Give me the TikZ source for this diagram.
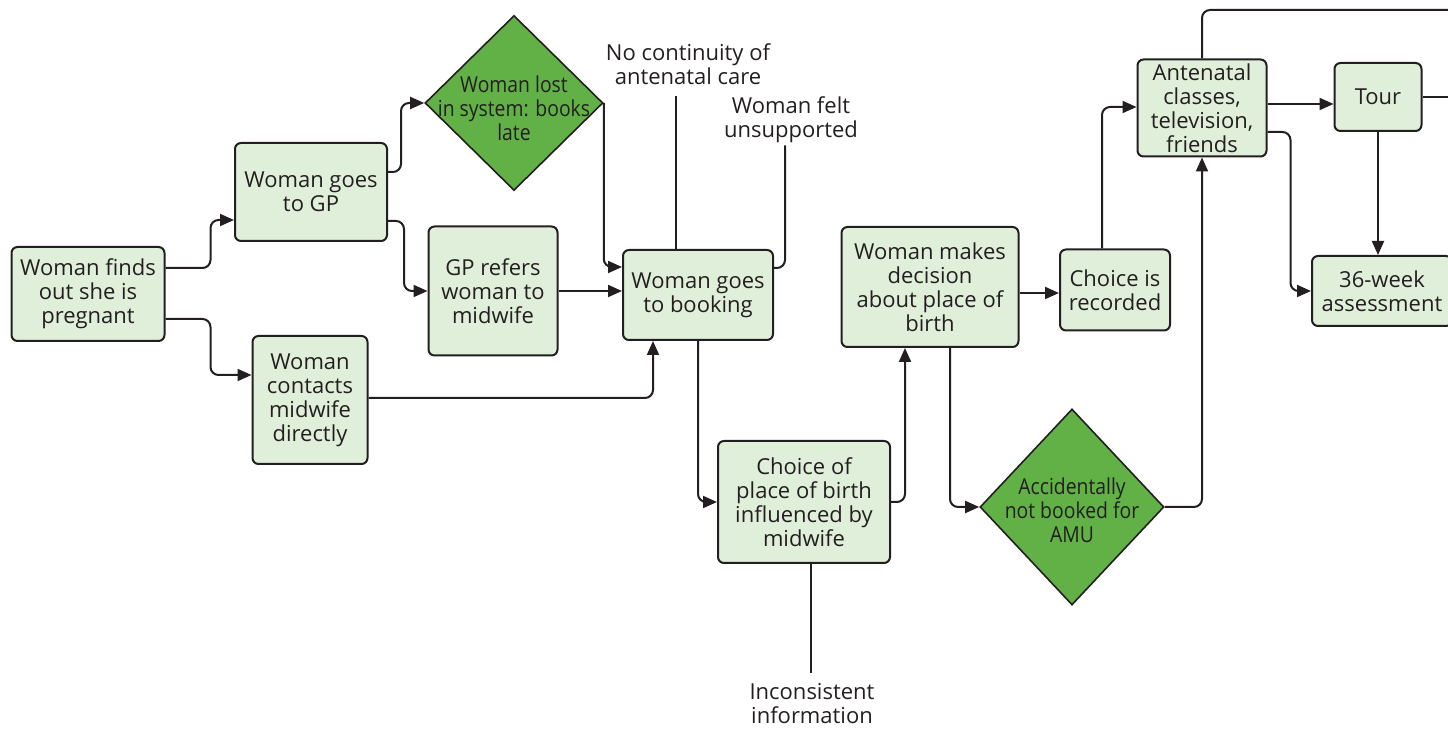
\documentclass[tikz,border=0pt]{standalone}
\usepackage{fontspec}
\setmainfont{Open Sans}
\usepackage{tikz}
\usetikzlibrary{shapes,calc,arrows.meta}

\definecolor{linec}{RGB}{35,31,32}
\definecolor{boxc}{RGB}{224,239,218}
\definecolor{darkc}{RGB}{98,177,70}

\begin{document}
\begin{tikzpicture}
[x=0.5pt,y=-0.5pt,
 box/.style={rectangle,rounded corners=3pt,draw=linec,fill=boxc,line width=1pt,align=center,inner sep=0pt,text=linec,font=\fontsize{11}{12}\selectfont},
 decide/.style={diamond,draw=linec,fill=darkc,line width=0.8pt,inner sep=0pt},
 inner/.style={align=center,text=linec,font=\fontsize{11}{12}\selectfont\addfontfeature{FakeStretch=0.88}},
 note/.style={align=center,text=linec,inner sep=1pt,font=\fontsize{11}{12}\selectfont},
 flow/.style={draw=linec,line width=1pt,rounded corners=4pt,-{Triangle[length=7pt,width=6pt]}},
 link/.style={draw=linec,line width=1pt,rounded corners=4pt}]
\useasboundingbox (0,0) rectangle (1448,731);
\clip (0,0) rectangle (1448,731);
% boxes
\node (find) at (88,294) [box,minimum width=76.5pt,minimum height=47pt] {Woman finds\\out she is\\pregnant};
\node (gp) at (311,192) [box,minimum width=76pt,minimum height=49pt] {Woman goes\\to GP};
\node (contact) at (310,400) [box,minimum width=57.5pt,minimum height=64pt] {Woman\\contacts\\midwife\\directly};
\node (lost) at (514,103) [decide,minimum width=89pt,minimum height=87.5pt,
  label={[inner,yshift=-2.5pt]center:Woman lost\\in system: books\\late}] {};
\node (refers) at (493,291) [box,minimum width=64.5pt,minimum height=64.5pt] {GP refers\\woman to\\midwife};
\node (booking) at (698,295) [box,minimum width=75pt,minimum height=45pt] {Woman goes\\to booking};
\node (influenced) at (804,502) [box,minimum width=86pt,minimum height=61pt] {Choice of\\place of birth\\influenced by\\midwife};
\node (decision) at (930,287) [box,minimum width=88.5pt,minimum height=60pt] {Woman makes\\decision\\about place of\\birth};
\node (recorded) at (1115,290) [box,minimum width=55pt,minimum height=40.5pt] {Choice is\\recorded};
\node (accident) at (1072,507) [decide,minimum width=92pt,minimum height=98pt,
  label={[inner,yshift=-1.5pt]center:Accidentally\\not booked for\\AMU}] {};
\node (antenatal) at (1202,108) [box,minimum width=64.5pt,minimum height=48.5pt] {Antenatal\\classes,\\television,\\friends};
\node (tour) at (1378,97) [box,minimum width=43.5pt,minimum height=34pt] {Tour};
\node (assess) at (1382,291) [box,minimum width=70pt,minimum height=35pt] {36-week\\assessment};
% free text
\node (nocont) at (688,64) [note] {No continuity of\\antenatal care};
\node (unsupp) at (791,120) [note] {Woman felt\\unsupported};
\node (incons) at (812,704) [note] {Inconsistent\\information};
\coordinate (tourout) at (1460,97);
\coordinate (topout) at (1460,10);
% connectors
\draw [flow] ($(find.east)+(0,-26)$) -- ++(45,0) |- ($(gp.west)+(0,28)$);
\draw [flow] ($(find.east)+(0,25)$) -- ++(45,0) |- ($(contact.west)+(0,-25)$);
\draw [flow] ($(gp.east)+(0,-20)$) -- ++(13,0) |- (lost.west);
\draw [flow] ($(gp.east)+(0,29)$) -- ++(16,0) |- (refers.west);
\draw [flow] (lost.east) |- ($(booking.west)+(0,-28)$);
\draw [flow] (refers.east) -- (booking.west |- refers.east);
\draw [flow] ($(contact.east)+(0,-2)$) -| ($(booking.south)+(-45,0)$);
\draw [flow] (booking.south) |- (influenced.west);
\draw [link] ($(booking.north)+(-22,0)$) -- ++(0,-153);
\draw [link] ($(unsupp.south)+(-6,0)$) |- ($(booking.east)+(0,-27)$);
\draw [flow] (influenced.east) -| ($(decision.south)+(-25,0)$);
\draw [link] ($(influenced.south)+(7,0)$) -- ++(0,109);
\draw [flow] ($(decision.east)+(0,6)$) -- ($(recorded.west)+(0,3)$);
\draw [flow] ($(decision.south)+(20,0)$) |- (accident.west);
\draw [flow] ($(recorded.north)+(-13,0)$) |- ($(antenatal.west)+(0,-1)$);
\draw [flow] (accident.east) -| (antenatal.south);
\draw [flow] ($(antenatal.east)+(0,-4)$) -- ($(tour.west)+(0,7)$);
\draw [flow] ($(antenatal.east)+(0,24)$) -- ++(23,0) |- (assess.west);
\draw [flow] (tour.south) -- (tour.south |- assess.north);
\draw [link] (tour.east) -- (tourout);
\draw [link] (antenatal.north) |- (topout);
\end{tikzpicture}
\end{document}
